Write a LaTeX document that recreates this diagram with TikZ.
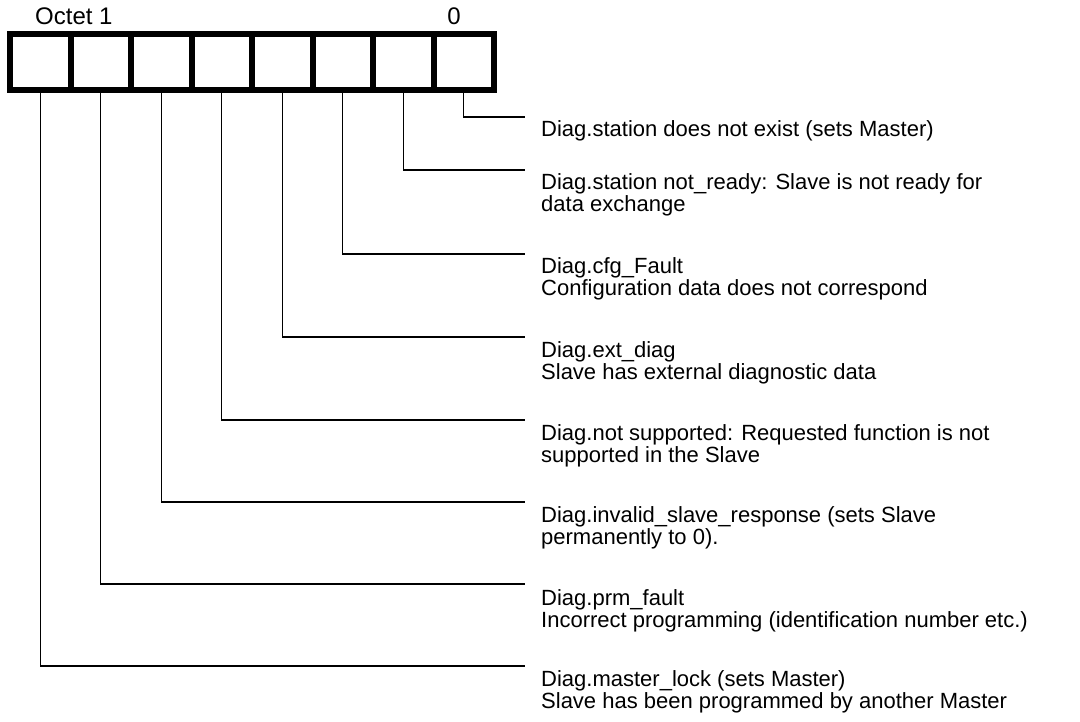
\documentclass[tikz,border=0pt]{standalone}
\usepackage{fontspec}
\setmainfont{Liberation Sans}
\begin{document}
\begin{tikzpicture}[x=1pt,y=-1pt,
  cell/.style={draw,line width=6pt,minimum width=60.5pt,minimum height=56pt,inner sep=0pt,outer sep=0pt},
  leader/.style={line width=1.1pt},
  txt/.style={anchor=base west,inner sep=0pt,font=\fontsize{22}{22}\selectfont},
  lbl/.style={anchor=base,inner sep=0pt,font=\fontsize{24}{24}\selectfont}]
\useasboundingbox (0,0) rectangle (1080,722);
% octet cells, bit 7 on the left, bit 0 on the right
\foreach \b [count=\i from 0] in {7,6,5,4,3,2,1,0}{
  \node[cell] (c\b) at ({10+60.5*(\i+0.5)},62) {};
}
\node[lbl,anchor=base west] (oct) at (35,25) {Octet 1};
\node[lbl] (zero) at (454,25) {0};
% leader end points
\foreach \b/\y in {0/117,1/170,2/254,3/337,4/420,5/502,6/584,7/666}{
  \coordinate (e\b) at (525,\y);
  \draw[leader] (c\b.south) |- (e\b);
}
% texts
\node[txt] (t0) at (541,137) {Diag.station does not exist (sets Master)};
\node[txt] (t1) at (541,190) {Diag.station not\_ready: Slave is not ready for};
\node[txt] (t1b) at (541,212) {data exchange};
\node[txt] (t2) at (541,274) {Diag.cfg\_Fault};
\node[txt] (t2b) at (541,296) {Configuration data does not correspond};
\node[txt] (t3) at (541,357) {Diag.ext\_diag};
\node[txt] (t3b) at (541,379) {Slave has external diagnostic data};
\node[txt] (t4) at (541,440) {Diag.not supported: Requested function is not};
\node[txt] (t4b) at (541,462) {supported in the Slave};
\node[txt] (t5) at (541,522) {Diag.invalid\_slave\_response (sets Slave};
\node[txt] (t5b) at (541,544) {permanently to 0).};
\node[txt] (t6) at (541,605) {Diag.prm\_fault};
\node[txt] (t6b) at (541,627) {Incorrect programming (identification number etc.)};
\node[txt] (t7) at (541,686) {Diag.master\_lock (sets Master)};
\node[txt] (t7b) at (541,708) {Slave has been programmed by another Master};
\end{tikzpicture}
\end{document}
